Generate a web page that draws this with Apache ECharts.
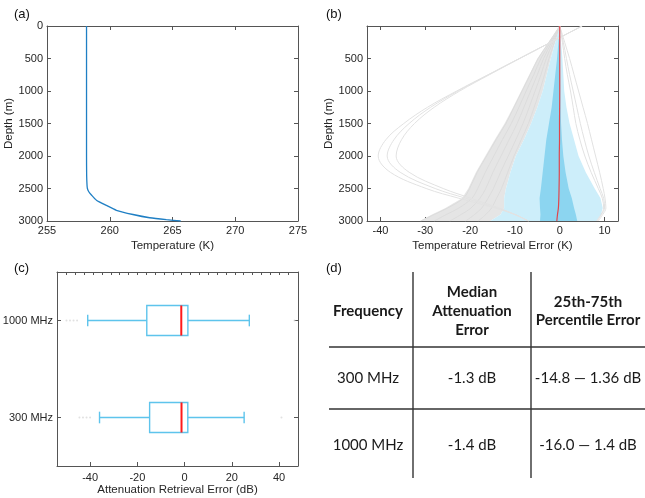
<!DOCTYPE html>
<html><head><meta charset="utf-8">
<script src="https://cdn.jsdelivr.net/npm/echarts@6/dist/echarts.min.js"></script>
<style>html,body{margin:0;padding:0;background:#fff}#c{width:645px;height:498px}</style>
</head><body><div id="c"></div>
<script>
// ---------- Panel (a): temperature profile ----------
const profileDepth = [0, 1000, 2000, 2300, 2450, 2500, 2550, 2600, 2680, 2760, 2835, 2900, 2950, 2980, 3000];
const profileTemp  = [258.15, 258.15, 258.15, 258.16, 258.19, 258.22, 258.33, 258.54, 258.94, 259.73, 260.53, 261.85, 263.18, 264.51, 265.65];

// ---------- Panel (b): retrieval errors ----------
const bDepth = [0, 250, 500, 750, 1000, 1250, 1500, 1750, 2000, 2250, 2500, 2650, 2800, 2900, 3000];
const grayEnvLeft = [0, -2.5, -5.0, -6.8, -8.6, -10.4, -12.3, -14.5, -16.6, -18.7, -20.4, -21.8, -25.5, -28.5, -31.2];
const lightLeft   = [0, -1.0, -2.0, -2.9, -3.8, -5.0, -6.4, -8.0, -9.8, -11.0, -12.0, -12.4, -12.4, -13.2, -15.5];
const lightRight  = [0, 0.3, 0.6, 0.8, 1.0, 1.5, 2.2, 3.2, 4.2, 5.8, 7.8, 9.1, 9.6, 9.2, 8.2];
const darkLeft    = [0, -0.3, -0.6, -1.0, -1.4, -1.8, -2.4, -3.0, -3.4, -3.8, -4.2, -4.5, -4.4, -4.3, -4.4];
const darkRight   = [0, 0.0, 0.05, 0.1, 0.15, 0.2, 0.3, 0.5, 0.8, 1.3, 2.0, 2.7, 3.2, 3.6, 3.9];
const medianErr   = [0, 0, 0, 0, 0, -0.02, -0.05, -0.05, -0.1, -0.1, -0.15, -0.2, -0.3, -0.5, -0.65];
const runC1 = [5.0, -2.0, -9.0, -16.0, -23.0, -29.5, -34.8, -38.8, -40.5, -37.8, -29.8, -22.5, -14.5, -10.0, -7.0];
const runC2 = [5.0, -2.0, -9.0, -15.9, -22.7, -28.8, -33.6, -37.0, -38.5, -35.6, -27.8, -21.0, -14.0, -10.0, -7.0];
const runC3 = [5.0, -2.0, -8.9, -15.7, -22.3, -28.0, -32.4, -35.3, -36.5, -33.6, -26.0, -19.8, -13.5, -10.0, -7.0];
const runR1 = [0, 1.1, 2.2, 3.2, 4.2, 5.2, 6.2, 7.1, 8.0, 8.9, 9.7, 10.1, 10.3, 9.6, 8.6];
const runR2 = [0, 0.8, 1.5, 2.2, 3.0, 3.8, 4.6, 5.5, 6.5, 7.7, 9.0, 9.8, 10.0, 9.3, 8.4];
const runR3 = [0, 0.6, 1.1, 1.7, 2.4, 3.0, 3.6, 4.5, 5.6, 7.0, 8.6, 9.5, 9.8, 9.2, 8.2];
const runM1 = [0, -2.4, -4.8, -6.6, -8.4, -10.2, -12.0, -14.2, -16.3, -18.4, -20.1, -21.5, -25.0, -28.0, -31.0];
const runM2 = [0, -2.1, -4.2, -5.8, -7.5, -9.1, -10.8, -12.8, -14.7, -16.6, -18.3, -19.6, -22.5, -25.3, -28.0];
const runM3 = [0, -1.8, -3.6, -5.0, -6.5, -8.0, -9.5, -11.3, -13.1, -14.9, -16.5, -17.8, -19.8, -22.0, -24.5];
const runM4 = [0, -1.5, -3.0, -4.2, -5.5, -6.8, -8.2, -9.8, -11.5, -13.2, -14.8, -16.0, -17.4, -19.0, -21.0];
const runM5 = [0, -1.2, -2.4, -3.4, -4.5, -5.7, -7.0, -8.6, -10.2, -11.6, -13.0, -14.1, -15.2, -16.5, -18.2];
const bTicks = [-40, -30, -20, -10, 0, 10];

// ---------- Panel (c): attenuation box plot ----------
const freqCats   = ['300 MHz', '1000 MHz'];
const whiskerLow = [-36, -41];
const quart1     = [-14.8, -16.0];
const medianAtt  = [-1.3, -1.4];
const quart3     = [1.36, 1.4];
const whiskerHigh= [25.2, 27.4];
const outliers300  = [-44.5, -43, -41.5, -40, 41];
const outliers1000 = [-50, -48.5, -47, -45.5, 46.5];
const cLabelTicks = [-40, -20, 0, 20, 40];

// ---------- Panel (d): table ----------
const tableHeader = [['Frequency'], ['Median', 'Attenuation', 'Error'], ['25th-75th', 'Percentile Error']];
const tableRows = [['300 MHz', '-1.3 dB', '-14.8 \u2014 1.36 dB'], ['1000 MHz', '-1.4 dB', '-16.0 \u2014 1.4 dB']];

// ---------- styles ----------
const FONT = 'Liberation Sans';
const axisLine = {show: true, onZero: false, lineStyle: {color: '#555', width: 1}};
const tick = {show: true, inside: true, length: 4, lineStyle: {color: '#555'}};
const lab = {color: '#262626', fontSize: 11, fontFamily: FONT};
const nameTS = {color: '#262626', fontSize: 11.5, fontFamily: FONT};
const plain = v => String(v);

const cTopTicks = [];
for (let v = -50; v <= 46; v += 3.75) cTopTicks.push(v);

function pairs(xs, ys) { return xs.map((x, i) => [x, ys[i]]); }
function polyPoints(left, right, depth) {
  return pairs(left, depth).concat(pairs(right, depth).reverse());
}
function polySeries(points, color) {
  return {
    type: 'custom', xAxisIndex: 2, yAxisIndex: 2, silent: true, clip: true,
    data: points,
    renderItem: function (params, api) {
      if (params.dataIndex !== 0) return null;
      return {type: 'polygon', shape: {points: points.map(p => api.coord(p))},
              style: {fill: color, stroke: null}};
    }
  };
}
function runLine(vals, color, w) {
  return {type: 'line', xAxisIndex: 2, yAxisIndex: 2, data: pairs(vals, bDepth),
          showSymbol: false, smooth: 0.35, silent: true,
          lineStyle: {color: color, width: w}};
}

const boxData = freqCats.map((c, i) => [i, whiskerLow[i], quart1[i], medianAtt[i], quart3[i], whiskerHigh[i]]);
const outlierData = outliers300.map(v => [v, 0]).concat(outliers1000.map(v => [v, 1]));

const graphics = [];
[['(a)', 14, 14], ['(b)', 326, 14], ['(c)', 14, 268], ['(d)', 326, 268]].forEach(t => {
  graphics.push({type: 'text', x: t[1], y: t[2], style: {text: t[0], fill: '#111', font: '13px ' + FONT, verticalAlign: 'middle', textVerticalAlign: 'middle'}});
});
const colX = [368, 472, 588];
const headY = [[311], [292, 311, 330], [302, 320]];
tableHeader.forEach((lines, c) => lines.forEach((t, k) => {
  graphics.push({type: 'text', x: colX[c], y: headY[c][k], style: {text: t, fill: '#1a1a1a', font: 'bold 15px Lato', align: 'center', textAlign: 'center', verticalAlign: 'middle', textVerticalAlign: 'middle'}});
}));
const rowY = [378, 445];
tableRows.forEach((row, r) => row.forEach((t, c) => {
  graphics.push({type: 'text', x: colX[c], y: rowY[r], style: {text: t, fill: '#1a1a1a', font: '15px Lato', align: 'center', textAlign: 'center', verticalAlign: 'middle', textVerticalAlign: 'middle'}});
}));
[[413, 272, 413, 478], [531, 272, 531, 478], [329, 347, 645, 347], [329, 409, 645, 409]].forEach(l => {
  graphics.push({type: 'line', shape: {x1: l[0], y1: l[1], x2: l[2], y2: l[3]}, style: {stroke: '#333', lineWidth: 1.4}});
});

const option = {
  animation: false,
  backgroundColor: '#fff',
  grid: [
    {left: 47, top: 26, width: 251, height: 195, outerBoundsMode: 'none', containLabel: false},
    {left: 367, top: 26, width: 251, height: 195, outerBoundsMode: 'none', containLabel: false},
    {left: 57, top: 272, width: 241, height: 194, outerBoundsMode: 'none', containLabel: false}
  ],
  xAxis: [
    {gridIndex: 0, type: 'value', min: 255, max: 275, interval: 5, position: 'bottom', axisLine, axisTick: tick,
     axisLabel: Object.assign({margin: 4, formatter: plain}, lab), splitLine: {show: false},
     name: 'Temperature (K)', nameLocation: 'middle', nameGap: 19, nameTextStyle: nameTS},
    {gridIndex: 0, type: 'value', min: 255, max: 275, interval: 5, position: 'top', axisLine, axisTick: tick,
     axisLabel: {show: false}, splitLine: {show: false}},
    {gridIndex: 1, type: 'value', min: -43, max: 13, position: 'bottom', axisLine,
     axisTick: Object.assign({customValues: bTicks}, tick),
     axisLabel: Object.assign({margin: 4, customValues: bTicks, formatter: plain}, lab), splitLine: {show: false},
     name: 'Temperature Retrieval Error (K)', nameLocation: 'middle', nameGap: 19, nameTextStyle: nameTS},
    {gridIndex: 1, type: 'value', min: -43, max: 13, position: 'top', axisLine,
     axisTick: Object.assign({customValues: bTicks}, tick), axisLabel: {show: false}, splitLine: {show: false}},
    {gridIndex: 2, type: 'value', min: -54, max: 48, position: 'bottom', axisLine,
     axisTick: Object.assign({customValues: cLabelTicks}, tick),
     axisLabel: Object.assign({margin: 6, customValues: cLabelTicks, formatter: plain}, lab), splitLine: {show: false},
     name: 'Attenuation Retrieval Error (dB)', nameLocation: 'middle', nameGap: 17, nameTextStyle: nameTS},
    {gridIndex: 2, type: 'value', min: -54, max: 48, position: 'top', axisLine,
     axisTick: Object.assign({customValues: cTopTicks}, tick, {length: 3}), axisLabel: {show: false}, splitLine: {show: false}}
  ],
  yAxis: [
    {gridIndex: 0, type: 'value', min: 0, max: 3000, interval: 500, inverse: true, position: 'left', axisLine, axisTick: tick,
     axisLabel: Object.assign({margin: 4, formatter: plain}, lab), splitLine: {show: false},
     name: 'Depth (m)', nameLocation: 'middle', nameGap: 27, nameTextStyle: nameTS},
    {gridIndex: 0, type: 'value', min: 0, max: 3000, interval: 500, inverse: true, position: 'right', axisLine, axisTick: tick,
     axisLabel: {show: false}, splitLine: {show: false}},
    {gridIndex: 1, type: 'value', min: 0, max: 3000, interval: 500, inverse: true, position: 'left', axisLine, axisTick: tick,
     axisLabel: Object.assign({margin: 4, formatter: v => (v === 0 ? '' : String(v))}, lab), splitLine: {show: false},
     name: 'Depth (m)', nameLocation: 'middle', nameGap: 27, nameTextStyle: nameTS},
    {gridIndex: 1, type: 'value', min: 0, max: 3000, interval: 500, inverse: true, position: 'right', axisLine, axisTick: tick,
     axisLabel: {show: false}, splitLine: {show: false}},
    {gridIndex: 2, type: 'category', data: freqCats, position: 'left', boundaryGap: true, axisLine,
     axisTick: Object.assign({alignWithLabel: true}, tick), axisLabel: Object.assign({margin: 4}, lab), splitLine: {show: false}},
    {gridIndex: 2, type: 'category', data: freqCats, position: 'right', boundaryGap: true, axisLine,
     axisTick: Object.assign({alignWithLabel: true}, tick), axisLabel: {show: false}, splitLine: {show: false}}
  ],
  graphic: graphics,
  series: [
    {type: 'line', xAxisIndex: 0, yAxisIndex: 0, data: pairs(profileTemp, profileDepth), showSymbol: false,
     smooth: 0.2, lineStyle: {color: '#1f7fc4', width: 1.3}},
    polySeries(polyPoints(grayEnvLeft, lightLeft, bDepth), '#e5e5e5'),
    runLine(runM1, '#dcdcdc', 1), runLine(runM2, '#dcdcdc', 1), runLine(runM3, '#dcdcdc', 1),
    runLine(runM4, '#dcdcdc', 1), runLine(runM5, '#dcdcdc', 1),
    runLine(runC1, '#e2e2e2', 1), runLine(runC2, '#e2e2e2', 1), runLine(runC3, '#e2e2e2', 1),
    runLine(runR1, '#e2e2e2', 1), runLine(runR2, '#e2e2e2', 1), runLine(runR3, '#e2e2e2', 1),
    polySeries(polyPoints(lightLeft, lightRight, bDepth), '#cdeefa'),
    polySeries(polyPoints(darkLeft, darkRight, bDepth), '#8cd5f0'),
    {type: 'line', xAxisIndex: 2, yAxisIndex: 2, data: pairs(medianErr, bDepth), showSymbol: false, smooth: 0.3,
     lineStyle: {color: '#e0454c', width: 1.2}},
    {type: 'scatter', xAxisIndex: 4, yAxisIndex: 4, data: outlierData, symbol: 'circle', symbolSize: 2,
     itemStyle: {color: '#dadada'}, silent: true},
    {type: 'custom', xAxisIndex: 4, yAxisIndex: 4, data: boxData, encode: {x: [1, 2, 3, 4, 5], y: 0},
     renderItem: function (params, api) {
       const cat = api.value(0);
       const band = api.size([0, 1])[1];
       const hb = band * 0.155, hc = band * 0.06;
       const pLo = api.coord([api.value(1), cat]);
       const pQ1 = api.coord([api.value(2), cat]);
       const pMd = api.coord([api.value(3), cat]);
       const pQ3 = api.coord([api.value(4), cat]);
       const pHi = api.coord([api.value(5), cat]);
       const cy = pMd[1];
       const blue = {stroke: '#5ec4ec', lineWidth: 1.4, fill: null};
       return {type: 'group', children: [
         {type: 'line', shape: {x1: pLo[0], y1: cy, x2: pQ1[0], y2: cy}, style: blue},
         {type: 'line', shape: {x1: pQ3[0], y1: cy, x2: pHi[0], y2: cy}, style: blue},
         {type: 'line', shape: {x1: pLo[0], y1: cy - hc, x2: pLo[0], y2: cy + hc}, style: blue},
         {type: 'line', shape: {x1: pHi[0], y1: cy - hc, x2: pHi[0], y2: cy + hc}, style: blue},
         {type: 'rect', shape: {x: pQ1[0], y: cy - hb, width: pQ3[0] - pQ1[0], height: 2 * hb}, style: blue},
         {type: 'line', shape: {x1: pMd[0], y1: cy - hb, x2: pMd[0], y2: cy + hb}, style: {stroke: '#ff1a1a', lineWidth: 2}}
       ]};
     }}
  ]
};
const chart = echarts.init(document.getElementById('c'), null, {renderer: 'canvas'});
chart.setOption(option);
</script></body></html>
